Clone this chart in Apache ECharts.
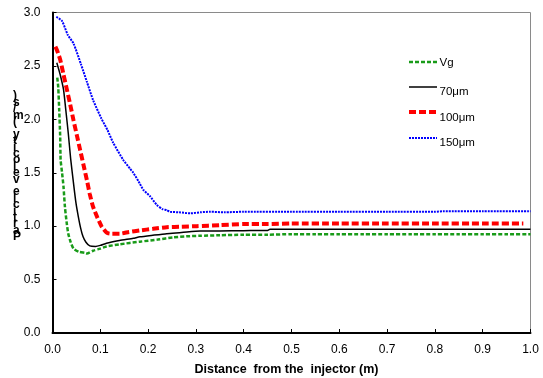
<!DOCTYPE html>
<html>
<head>
<meta charset="utf-8">
<script src="https://cdn.jsdelivr.net/npm/echarts@6/dist/echarts.min.js"></script>
<style>
  html, body { margin: 0; padding: 0; background: #fff; }
  #chart { width: 543px; height: 378px; }
</style>
</head>
<body>
<div id="chart"></div>
<script>
// Particle velocity along the injector distance for gas (Vg) and three particle sizes
const seriesNames = ['Vg', '70μm', '100μm', '150μm'];

const vgX = [0.010, 0.012, 0.014, 0.016, 0.017, 0.020, 0.023, 0.026, 0.030, 0.033, 0.038, 0.044, 0.055, 0.068, 0.072, 0.085, 0.100, 0.113, 0.140, 0.183, 0.220, 0.253, 0.280, 0.309, 0.350, 0.400, 0.450, 0.500, 0.550, 0.600, 0.650, 0.700, 0.750, 0.800, 0.850, 0.900, 0.950, 1.000];
const vgY = [2.39, 2.30, 2.09, 1.85, 1.62, 1.50, 1.37, 1.18, 1.02, 0.93, 0.85, 0.79, 0.76, 0.75, 0.745, 0.77, 0.79, 0.81, 0.83, 0.855, 0.875, 0.895, 0.905, 0.91, 0.915, 0.92, 0.92, 0.925, 0.925, 0.925, 0.925, 0.925, 0.925, 0.925, 0.925, 0.925, 0.925, 0.925];

const p70X = [0.009, 0.016, 0.023, 0.028, 0.033, 0.038, 0.044, 0.049, 0.054, 0.059, 0.064, 0.070, 0.078, 0.090, 0.100, 0.113, 0.140, 0.169, 0.183, 0.210, 0.239, 0.270, 0.309, 0.350, 0.400, 0.450, 0.455, 0.500, 0.600, 0.700, 0.800, 0.900, 1.000];
const p70Y = [2.53, 2.42, 2.28, 2.08, 1.87, 1.63, 1.40, 1.22, 1.09, 0.98, 0.90, 0.85, 0.815, 0.81, 0.82, 0.84, 0.865, 0.887, 0.90, 0.915, 0.93, 0.94, 0.955, 0.955, 0.958, 0.96, 0.97, 0.97, 0.97, 0.97, 0.97, 0.97, 0.97];

const p100X = [0.006, 0.010, 0.016, 0.023, 0.030, 0.037, 0.044, 0.051, 0.058, 0.065, 0.072, 0.078, 0.085, 0.094, 0.103, 0.113, 0.120, 0.141, 0.160, 0.183, 0.210, 0.239, 0.270, 0.302, 0.350, 0.400, 0.450, 0.500, 0.600, 0.700, 0.800, 0.900, 0.985];
const p100Y = [2.68, 2.64, 2.56, 2.42, 2.28, 2.14, 1.99, 1.85, 1.71, 1.57, 1.43, 1.30, 1.18, 1.08, 0.995, 0.94, 0.93, 0.93, 0.945, 0.96, 0.975, 0.99, 0.995, 1.00, 1.01, 1.02, 1.02, 1.025, 1.025, 1.025, 1.025, 1.025, 1.025];

const p150X = [0.008, 0.020, 0.032, 0.044, 0.060, 0.072, 0.085, 0.102, 0.115, 0.127, 0.148, 0.162, 0.169, 0.180, 0.190, 0.204, 0.218, 0.230, 0.239, 0.246, 0.265, 0.288, 0.310, 0.330, 0.360, 0.400, 0.500, 0.600, 0.700, 0.800, 0.817, 0.900, 1.000];
const p150Y = [2.96, 2.92, 2.79, 2.71, 2.51, 2.35, 2.18, 2.01, 1.90, 1.78, 1.62, 1.54, 1.50, 1.42, 1.34, 1.28, 1.20, 1.16, 1.15, 1.135, 1.13, 1.12, 1.13, 1.135, 1.13, 1.135, 1.135, 1.135, 1.135, 1.135, 1.14, 1.14, 1.14];

const xTicks = [0.0, 0.1, 0.2, 0.3, 0.4, 0.5, 0.6, 0.7, 0.8, 0.9, 1.0];
const yTicks = [0.0, 0.5, 1.0, 1.5, 2.0, 2.5, 3.0];

const xTitle = 'Distance  from the  injector (m)';
const yTitle = 'Particle velocity (m/s)';

const zip = (xs, ys) => xs.map((x, i) => [x, ys[i]]);
const font = 'Liberation Sans, Arial, sans-serif';

// line styles shared by the series and the key
const styles = [
  { color: '#199b19', width: 2.5, dash: [4, 2] },
  { color: '#000000', width: 1.5, dash: null },
  { color: '#ff0000', width: 4, dash: [7, 3] },
  { color: '#0000ff', width: 2, dash: [2, 1] }
];

// hand-placed key: sample line, then label slightly below it for the sizes
const keyRows = [
  { lineY: 62, textY: 63 },
  { lineY: 87, textY: 92 },
  { lineY: 112, textY: 118 },
  { lineY: 138, textY: 143 }
];
const keyGraphics = [];
keyRows.forEach((row, i) => {
  const s = styles[i];
  keyGraphics.push({
    type: 'line',
    shape: { x1: 409, y1: row.lineY, x2: 437, y2: row.lineY },
    style: { stroke: s.color, lineWidth: s.width, lineDash: s.dash || null },
    silent: true
  });
  keyGraphics.push({
    type: 'text',
    x: 439.5, y: row.textY,
    style: {
      text: seriesNames[i], font: '11.5px ' + font, fill: '#000',
      textVerticalAlign: 'middle', verticalAlign: 'middle'
    },
    silent: true
  });
});

const chart = echarts.init(document.getElementById('chart'), null, { renderer: 'canvas' });

chart.setOption({
  animation: false,
  backgroundColor: '#fff',
  grid: {
    left: 52.5, right: 12.5, top: 12.5, bottom: 45,
    containLabel: false, outerBoundsMode: 'none',
    show: true, borderColor: '#8a8a8a', borderWidth: 1, backgroundColor: 'transparent'
  },
  xAxis: {
    type: 'value', min: 0, max: 1, interval: 0.1,
    name: xTitle, nameLocation: 'middle', nameGap: 30,
    nameTextStyle: { fontFamily: font, fontSize: 12.5, fontWeight: 'bold', color: '#000', padding: [0, 10, 0, 0] },
    axisLine: { show: true, onZero: false, lineStyle: { color: '#000', width: 2 } },
    axisTick: { show: true, inside: true, length: 4, lineStyle: { color: '#000' } },
    splitLine: { show: false },
    axisLabel: {
      fontFamily: font, fontSize: 12, color: '#000', margin: 11,
      customValues: xTicks,
      formatter: v => v.toFixed(1)
    }
  },
  yAxis: {
    type: 'value', min: 0, max: 3, interval: 0.5,
    axisLine: { show: true, onZero: false, lineStyle: { color: '#000', width: 2 } },
    axisTick: { show: true, inside: true, length: 4, lineStyle: { color: '#000' } },
    splitLine: { show: false },
    axisLabel: {
      fontFamily: font, fontSize: 12, color: '#000', margin: 12,
      customValues: yTicks,
      formatter: v => v.toFixed(1)
    }
  },
  graphic: [{
    type: 'text',
    left: 13, top: 90,
    style: {
      text: yTitle.split('').reverse().join('\n'),
      font: 'bold 12px ' + font,
      lineHeight: 6.4,
      fill: '#000'
    }
  }].concat(keyGraphics),
  series: [vgX, p70X, p100X, p150X].map((xs, i) => {
    const ys = [vgY, p70Y, p100Y, p150Y][i];
    const s = styles[i];
    return {
      name: seriesNames[i], type: 'line', data: zip(xs, ys),
      showSymbol: false, symbol: 'none', smooth: 0.2, z: 2 + i,
      lineStyle: { color: s.color, width: s.width, type: s.dash || 'solid' },
      itemStyle: { color: s.color }
    };
  })
});
</script>
</body>
</html>
